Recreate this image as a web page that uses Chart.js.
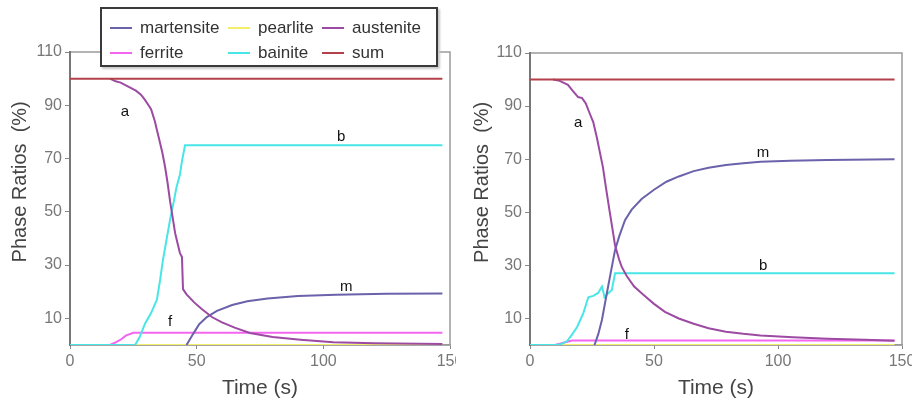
<!DOCTYPE html>
<html>
<head>
<meta charset="utf-8">
<script src="https://cdn.jsdelivr.net/npm/chart.js@4"></script>
<style>
  body { margin: 0; background: #fff; }
  #wrap { position: relative; width: 912px; height: 405px; overflow: hidden; }
  .box { position: absolute; top: 0; width: 456px; height: 405px; }
  #legend {
    position: absolute; left: 100px; top: 7px; width: 338px; height: 60px;
    box-sizing: border-box; border: 2px solid #3a3a3a; background: #fff;
    box-shadow: 2px 2px 2px #c8c8c8;
    padding: 7px 0 0 8px;
    display: grid; grid-template-columns: 118px 94px auto;
    font: 17px "Liberation Sans", Arial, sans-serif; color: #333;
  }
  #legend .item { display: flex; align-items: center; height: 24px; }
  #legend i { display: inline-block; width: 22px; height: 2px; margin-right: 8px; }
</style>
</head>
<body>
<div id="wrap">
  <div class="box" style="left:0"><canvas id="left" width="456" height="405"></canvas></div>
  <div class="box" style="left:456px"><canvas id="right" width="456" height="405"></canvas></div>
  <div id="legend"></div>
</div>
<script>
// series names, colours, tick labels
const names = ['martensite', 'pearlite', 'austenite', 'ferrite', 'bainite', 'sum'];
const colors = ['#6a62aa', '#f2ee6a', '#9c4aa2', '#f465f0', '#48e6e6', '#b3404a'];
const drawOrder = [2, 5, 1, 4, 3, 0];
const xTicks = [0, 50, 100, 150];
const yTicks = [10, 30, 50, 70, 90, 110];

// left panel, [time s, percent]
const leftMartensite = [[46,0],[48.5,4],[51,7.8],[54,10.5],[58,12.8],[64,15],[70,16.4],[78,17.5],[90,18.4],[105,18.9],[125,19.2],[147,19.3]];
const leftPearlite = [[0,0],[147,0]];
const leftAustenite = [[15.8,100],[18,99],[20,98.5],[23,97],[26,95.5],[28,94],[29.6,92],[31,90],[32,88.5],[33.5,84],[34.5,80],[35.5,76],[36.5,72],[37.5,67],[38.5,61],[39.5,54],[40.5,48],[41.5,42],[42.5,38],[43.4,34.5],[44.2,33],[44.6,21],[46,19],[49,16],[52,13.5],[56,10.5],[60,8.5],[65,6.5],[71,4.5],[80,3],[91,2],[104,1],[120,0.7],[147,0.4]];
const leftFerrite = [[0,0],[15.8,0],[18,1],[20,2],[22,3.5],[25,4.6],[147,4.6]];
const leftBainite = [[0,0],[25.7,0],[27.5,3],[29.6,8],[32,12],[34.3,17],[35.5,24],[36.7,32],[38,39],[39.5,47],[41,54],[42,59],[43.4,64],[44.2,69],[45.4,75],[147,75]];
const leftSum = [[0,100],[147,100]];
const leftNotes = [['a',21.7,87.4],['b',107,78],['m',109,22],['f',39.5,8.6]];

// right panel
const rightMartensite = [[26,0],[27.5,4],[29,9.4],[31,19.6],[32.5,27],[34.3,35.8],[36,41],[38.3,47],[41,51],[45,55],[50,58.5],[55,61.5],[60,63.5],[66,65.5],[72,66.8],[79,67.8],[86,68.5],[93,69],[105,69.4],[120,69.7],[147,70]];
const rightPearlite = [[0,0],[147,0]];
const rightAustenite = [[9.3,100],[12,99.5],[15.3,98],[17,96],[19.4,93.4],[21,93],[22.5,91],[24,87.4],[25.5,84],[27,78],[28.3,72],[29.4,67],[30.5,60],[32,51],[33.2,44],[34.3,37.5],[36,32],[37,29.4],[39,26],[42,22],[45.6,19],[50,15.5],[54.4,12.5],[60,10],[66,8],[72,6.3],[79,5],[86,4.2],[93,3.6],[106,2.9],[120,2.4],[135,2],[147,1.6]];
const rightFerrite = [[0,0],[10,0],[12,0.5],[15,1.2],[17,1.7],[147,1.7]];
const rightBainite = [[0,0],[10.9,0],[13,0.5],[15,1.5],[17,4],[19,6.8],[21.5,12],[22.5,15],[23.5,18],[25.5,18.5],[27.5,19.6],[29,22],[29.6,20],[30,18],[31,19],[33,20.7],[34.3,27],[147,27]];
const rightSum = [[0,100],[147,100]];
const rightNotes = [['a',19.4,83.6],['m',94,72.3],['b',94,30],['f',39,3.8]];

const FONT = '"Liberation Sans", Arial, sans-serif';

const frame = {
  id: 'frame',
  beforeDraw(chart) {
    const { ctx, chartArea: a } = chart;
    ctx.save();
    ctx.strokeStyle = '#9a9a9a';
    ctx.lineWidth = 1.5;
    ctx.strokeRect(a.left, a.top, a.right - a.left, a.bottom - a.top);
    ctx.restore();
  }
};

const notes = {
  id: 'notes',
  afterDatasetsDraw(chart, args, opts) {
    const { ctx, scales } = chart;
    ctx.save();
    ctx.font = '15px ' + FONT;
    ctx.fillStyle = '#111';
    ctx.textAlign = 'center';
    ctx.textBaseline = 'middle';
    opts.items.forEach(([t, x, y]) => {
      ctx.fillText(t, scales.x.getPixelForValue(x), scales.y.getPixelForValue(y));
    });
    ctx.restore();
  }
};

function makeChart(id, series, noteList, pad) {
  return new Chart(document.getElementById(id), {
    type: 'line',
    data: {
      datasets: series.map((pts, i) => ({
        label: names[i],
        data: pts.map(p => ({ x: p[0], y: p[1] })),
        borderColor: colors[i],
        backgroundColor: colors[i],
        borderWidth: 2,
        pointRadius: 0,
        tension: 0,
        order: drawOrder[i],
      })),
    },
    options: {
      responsive: false,
      animation: false,
      layout: { padding: pad },
      plugins: {
        legend: { display: false },
        tooltip: { enabled: false },
        notes: { items: noteList },
      },
      scales: {
        x: {
          type: 'linear', min: 0, max: 150,
          afterBuildTicks: s => { s.ticks = xTicks.map(v => ({ value: v })); },
          afterFit: s => { s.height = 60; s.paddingLeft = 0; s.paddingRight = 0; },
          ticks: { font: { size: 16, family: FONT }, color: '#777', padding: 3, maxRotation: 0 },
          grid: { drawOnChartArea: false, tickLength: 4, color: '#888' },
          border: { color: '#999', width: 1.5 },
          title: { display: true, text: 'Time (s)', font: { size: 21, family: FONT }, color: '#444', padding: { bottom: 4 } },
        },
        y: {
          min: 0, max: 110,
          afterBuildTicks: s => { s.ticks = yTicks.map(v => ({ value: v })); },
          afterFit: s => { s.width = pad.yw; s.paddingTop = 0; s.paddingBottom = 0; },
          ticks: { font: { size: 16, family: FONT }, color: '#777', padding: 3 },
          grid: { drawOnChartArea: false, tickLength: 5, color: '#888' },
          border: { color: '#777', width: 2 },
          title: { display: true, text: '      Phase Ratios  (%)', font: { size: 20, family: FONT }, color: '#444', padding: { top: pad.tp } },
        },
      },
    },
    plugins: [frame, notes],
  });
}

makeChart('left',
  [leftMartensite, leftPearlite, leftAustenite, leftFerrite, leftBainite, leftSum],
  leftNotes, { left: 0, top: 52, right: 6, bottom: 0, yw: 70, tp: 8 });
makeChart('right',
  [rightMartensite, rightPearlite, rightAustenite, rightFerrite, rightBainite, rightSum],
  rightNotes, { left: 0, top: 53, right: 10, bottom: 0, yw: 74, tp: 14 });

// shared legend above the left panel
const legend = document.getElementById('legend');
names.forEach((n, i) => {
  const item = document.createElement('span');
  item.className = 'item';
  item.innerHTML = '<i style="background:' + colors[i] + '"></i>' + n;
  legend.appendChild(item);
});
</script>
</body>
</html>
